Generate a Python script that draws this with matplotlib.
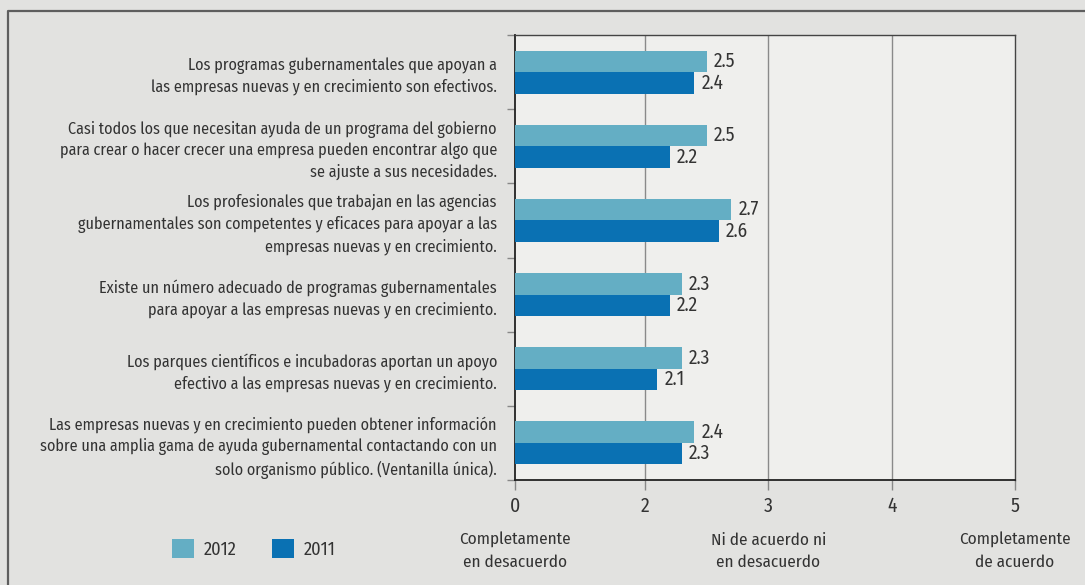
import matplotlib
matplotlib.use("Agg")
import matplotlib.pyplot as plt
from matplotlib import font_manager
from matplotlib.patches import Patch
from matplotlib.lines import Line2D

# condensed humanist face if present, otherwise a narrower standard one
available = {f.name for f in font_manager.fontManager.ttflist}
if "Fira Sans Condensed" in available:
    plt.rcParams['font.family'] = ['Fira Sans Condensed', 'DejaVu Sans']
    fs = 12.3
else:
    plt.rcParams['font.family'] = ['Liberation Sans', 'DejaVu Sans']
    fs = 10.5

categories = [
    "Los programas gubernamentales que apoyan a\nlas empresas nuevas y en crecimiento son efectivos.",
    "Casi todos los que necesitan ayuda de un programa del gobierno\npara crear o hacer crecer una empresa pueden encontrar algo que\nse ajuste a sus necesidades.",
    "Los profesionales que trabajan en las agencias\ngubernamentales son competentes y eficaces para apoyar a las\nempresas nuevas y en crecimiento.",
    "Existe un número adecuado de programas gubernamentales\npara apoyar a las empresas nuevas y en crecimiento.",
    "Los parques científicos e incubadoras aportan un apoyo\nefectivo a las empresas nuevas y en crecimiento.",
    "Las empresas nuevas y en crecimiento pueden obtener información\nsobre una amplia gama de ayuda gubernamental contactando con un\nsolo organismo público. (Ventanilla única).",
]
values_2012 = [2.5, 2.5, 2.7, 2.3, 2.3, 2.4]
values_2011 = [2.4, 2.2, 2.6, 2.2, 2.1, 2.3]
series_labels = ["2012", "2011"]
tick_labels = ["0", "2", "3", "4", "5"]
scale_labels = ["Completamente\nen desacuerdo", "Ni de acuerdo ni\nen desacuerdo", "Completamente\nde acuerdo"]

c2012 = "#64aec4"
c2011 = "#0a71b3"
txt = "#333333"

fig = plt.figure(figsize=(10.85, 5.85), dpi=100, facecolor="#e2e2e0")
ax = fig.add_axes([515 / 1085, 1 - 480 / 585, 500 / 1085, 445 / 585])
ax.set_facecolor("#efefed")

x0 = 0.945  # left end of the scale, shown as "0"
xticks = [x0, 2, 3, 4, 5]
n = len(categories)
ypos = list(range(n))
h = 0.29

ax.barh([y - h / 2 for y in ypos], [v - x0 for v in values_2012], left=x0, height=h, color=c2012, zorder=3)
ax.barh([y + h / 2 for y in ypos], [v - x0 for v in values_2011], left=x0, height=h, color=c2011, zorder=3)

for y, v in zip(ypos, values_2012):
    ax.annotate(f"{v}", (v, y - h / 2), xytext=(5, 0), textcoords="offset points",
                va="center", ha="left", fontsize=fs + 1.6, color=txt)
for y, v in zip(ypos, values_2011):
    ax.annotate(f"{v}", (v, y + h / 2), xytext=(5, 0), textcoords="offset points",
                va="center", ha="left", fontsize=fs + 1.6, color=txt)

ax.set_xlim(x0, 5)
ax.set_ylim(n - 0.5, -0.5)

ax.set_xticks(xticks)
ax.set_xticklabels(tick_labels, fontsize=fs + 1.8, color=txt)
ax.tick_params(axis="x", length=7, width=1, color="#888888", pad=5)
for x in [2, 3, 4]:
    ax.axvline(x, color="#8a8a8a", lw=1, zorder=1)

ax.set_yticks([y - 0.5 for y in ypos] + [n - 0.5])
ax.set_yticklabels([])
ax.tick_params(axis="y", which="major", length=6, width=1, color="#888888")
ax.set_yticks(ypos, minor=True)
ax.set_yticklabels(categories, minor=True, fontsize=fs * 0.945, color=txt)
ax.tick_params(axis="y", which="minor", length=0, pad=13)
for lab in ax.get_yticklabels(minor=True):
    lab.set_linespacing(1.38)

for side in ["left", "bottom"]:
    ax.spines[side].set_color("#222222")
    ax.spines[side].set_linewidth(1.3)
for side in ["top", "right"]:
    ax.spines[side].set_color("#444444")
    ax.spines[side].set_linewidth(1)

for x, lab in zip([x0, 3, 5], scale_labels):
    ax.annotate(lab, (x, -0.16), xycoords=("data", "axes fraction"),
                ha="center", va="center", fontsize=fs, color=txt, linespacing=1.45,
                annotation_clip=False)

handles = [Patch(facecolor=c2012), Patch(facecolor=c2011)]
fig.legend(handles, series_labels, loc="center left", bbox_to_anchor=(172 / 1085, 1 - 549 / 585),
           ncol=2, frameon=False, fontsize=fs + 0.9, handlelength=1.2, handleheight=1.2,
           handletextpad=0.55, columnspacing=1.9, borderpad=0, borderaxespad=0,
           labelcolor=txt)

# outer frame on the left and top
fig.add_artist(Line2D([8 / 1085, 8 / 1085, 1], [0, 1 - 11 / 585, 1 - 11 / 585],
                      color="#5e5e5e", lw=1.6))

fig.savefig("out.png", dpi=100, facecolor=fig.get_facecolor())
